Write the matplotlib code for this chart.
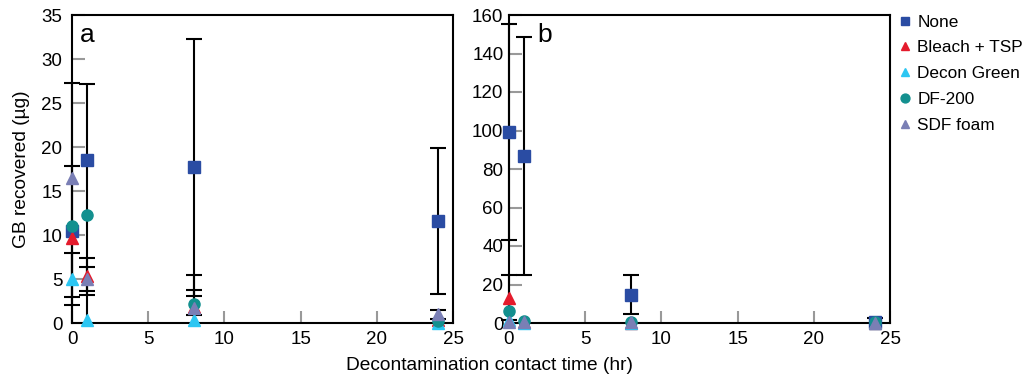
import matplotlib
matplotlib.use("Agg")
import matplotlib.pyplot as plt
from matplotlib.patches import Rectangle

plt.rcParams['font.family'] = ['Liberation Sans', 'DejaVu Sans']

times = [0, 1, 8, 24]
names = ['None', 'Bleach + TSP', 'Decon Green', 'DF-200', 'SDF foam']
colors = ['#2a4ca3', '#e41b2c', '#2cc6f2', '#13908f', '#7a7fb5']
markers = ['s', '^', '^', 'o', '^']

# panel a values (ug) and error bars
none_a = [10.4, 18.5, 17.7, 11.6]
none_a_err = [7.4, 0.0, 14.6, 8.3]
bleach_a = [9.7, 5.3, 1.8, 0.3]
bleach_a_err = [0.0, 2.1, 0.0, 0.0]
decon_a = [5.0, 0.3, 0.3, 0.0]
decon_a_err = [3.0, 0.0, 0.6, 0.0]
df_a = [11.0, 12.3, 2.2, 0.2]
df_a_err = [16.3, 14.9, 3.3, 0.0]
sdf_a = [16.5, 5.0, 1.7, 1.0]
sdf_a_err = [0.0, 1.4, 2.1, 0.5]

# panel b values (ug) and error bars
none_b = [99.1, 86.6, 14.8, 0.3]
none_b_err = [56.0, 61.8, 10.1, 2.4]
bleach_b = [13.1, 0.3, 0.2, 0.1]
bleach_b_err = [11.8, 0.0, 0.0, 0.0]
decon_b = [1.5, 0.2, 0.1, 0.0]
decon_b_err = [0.0, 0.0, 0.0, 0.0]
df_b = [6.4, 1.2, 0.5, 0.5]
df_b_err = [0.0, 0.0, 0.0, 0.0]
sdf_b = [0.5, 0.5, 0.3, 0.1]
sdf_b_err = [0.0, 0.0, 0.0, 0.0]

panel_a = [(none_a, none_a_err), (bleach_a, bleach_a_err), (decon_a, decon_a_err),
           (df_a, df_a_err), (sdf_a, sdf_a_err)]
panel_b = [(none_b, none_b_err), (bleach_b, bleach_b_err), (decon_b, decon_b_err),
           (df_b, df_b_err), (sdf_b, sdf_b_err)]

fig = plt.figure(figsize=(10.3, 3.78), dpi=100)
ax_a = fig.add_axes([72 / 1030, 55 / 378, 381 / 1030, 308 / 378])
ax_b = fig.add_axes([509 / 1030, 55 / 378, 381 / 1030, 308 / 378])


def draw_panel(ax, series, ymax, ystep, letter, letter_x, ypad):
    # clip region: wider than the axes so caps at x=0 show, but cut at y=0
    clip = Rectangle((-0.1, 0), 1.2, 1.1, transform=ax.transAxes, visible=False)
    ax.add_patch(clip)
    for (vals, errs) in series:
        ex = [t for t, e in zip(times, errs) if e > 0]
        ey = [v for v, e in zip(vals, errs) if e > 0]
        ee = [e for e in errs if e > 0]
        if not ee:
            continue
        eb = ax.errorbar(ex, ey, yerr=ee, fmt='none', ecolor='black',
                         elinewidth=1.5, capsize=6, capthick=1.5, zorder=2)
        for art in list(eb.lines[1]) + list(eb.lines[2]):
            art.set_clip_path(clip)
    for (vals, errs), name, col, mk in zip(series, names, colors, markers):
        ax.plot(times, vals, linestyle='none', marker=mk, color=col, ms=8,
                label=name, zorder=3, clip_on=False)
    ax.set_xlim(0, 25)
    ax.set_ylim(0, ymax)
    ax.set_xticks(range(0, 26, 5))
    ax.set_yticks(range(0, ymax + 1, ystep))
    ax.tick_params(direction='in', length=9, width=1.5, color='#999999',
                   labelsize=13.5)
    ax.tick_params(axis='x', pad=6)
    ax.tick_params(axis='y', pad=ypad)
    for sp in ax.spines.values():
        sp.set_linewidth(1.5)
    ax.text(letter_x, 0.975, letter, transform=ax.transAxes, fontsize=19,
            va='top', ha='left')


draw_panel(ax_a, panel_a, 35, 5, 'a', 0.02, 7)
draw_panel(ax_b, panel_b, 160, 20, 'b', 0.075, 4)

ax_a.set_ylabel('GB recovered (\u00b5g)', fontsize=13.8, labelpad=8)
fig.text(489 / 1030, 12 / 378, 'Decontamination contact time (hr)',
         ha='center', va='center', fontsize=13.8)

ax_b.legend(loc='upper left', bbox_to_anchor=(0.99, 1.035), frameon=False,
            fontsize=12.4, handletextpad=0.2, handlelength=1.0,
            labelspacing=0.62, borderaxespad=0.2, markerscale=0.8)

fig.savefig('out.png', dpi=100)
